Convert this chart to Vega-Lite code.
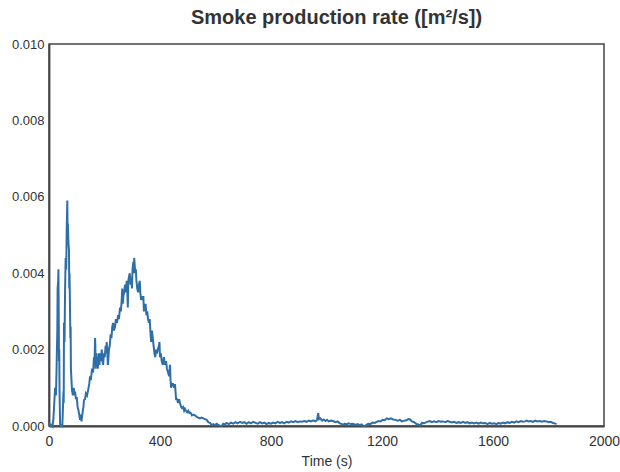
{
  "$schema": "https://vega.github.io/schema/vega-lite/v6.json",
  "autosize": "none",
  "width": 555,
  "height": 382,
  "padding": {"left": 49, "top": 44, "right": 16, "bottom": 46},
  "background": "white",
  "title": {"text": "Smoke production rate ([m²/s])", "font": "Liberation Sans", "fontSize": 20, "fontWeight": "bold", "color": "#333333", "offset": 10, "anchor": "middle", "dx": 10},
  "config": {
    "view": {"stroke": "#444444", "strokeWidth": 1.5},
    "axis": {"grid": false, "ticks": false, "labelFlush": false, "domainColor": "#444444", "domainWidth": 1.8, "labelFont": "Liberation Sans", "labelColor": "#333333", "titleFont": "Liberation Sans", "titleFontSize": 14, "titleFontWeight": "normal", "titleColor": "#333333"}
  },
  "data": {"values": [
{"t":0,"v":0},{"t":3,"v":0.00005},{"t":6,"v":0},{"t":10,"v":0.00003},{"t":13,"v":0},{"t":16,"v":0.0002},{"t":19,"v":0.0006},{"t":22,"v":0.001},{"t":25,"v":0.0008},{"t":27,"v":0.0014},{"t":28,"v":0.0018},{"t":30,"v":0.0025},{"t":31,"v":0.0036},{"t":33,"v":0.0038},{"t":34,"v":0.0041},{"t":35,"v":0.003},{"t":36,"v":0.0017},{"t":37,"v":0.002},{"t":38,"v":0.0009},{"t":40,"v":0.00005},{"t":42,"v":0},{"t":45,"v":0.00002},{"t":48,"v":0},{"t":50,"v":0.0004},{"t":52,"v":0.0009},{"t":53,"v":0.0006},{"t":54,"v":0.0027},{"t":56,"v":0.0022},{"t":58,"v":0.0036},{"t":60,"v":0.0044},{"t":62,"v":0.0041},{"t":64,"v":0.0052},{"t":66,"v":0.0059},{"t":67,"v":0.005},{"t":68,"v":0.0053},{"t":70,"v":0.0048},{"t":72,"v":0.0046},{"t":73,"v":0.0036},{"t":74,"v":0.004},{"t":76,"v":0.0029},{"t":77,"v":0.0023},{"t":78,"v":0.0026},{"t":79,"v":0.0015},{"t":81,"v":0.0012},{"t":83,"v":0.00094},{"t":86,"v":0.0008},{"t":89,"v":0.001},{"t":92,"v":0.0008},{"t":94,"v":0.0009},{"t":97,"v":0.0007},{"t":100,"v":0.00076},{"t":103,"v":0.0005},{"t":106,"v":0.00042},{"t":109,"v":0.0003},{"t":112,"v":0.00016},{"t":115,"v":0.0003},{"t":117,"v":0.00012},{"t":119,"v":0.00024},{"t":122,"v":0.0004},{"t":124,"v":0.0005},{"t":126,"v":0.00068},{"t":130,"v":0.0007},{"t":133,"v":0.00085},{"t":137,"v":0.0008},{"t":141,"v":0.00094},{"t":145,"v":0.0011},{"t":148,"v":0.0013},{"t":151,"v":0.0012},{"t":155,"v":0.0015},{"t":159,"v":0.0014},{"t":162,"v":0.0018},{"t":164,"v":0.0016},{"t":166,"v":0.0023},{"t":167,"v":0.0021},{"t":168,"v":0.0015},{"t":170,"v":0.0019},{"t":172,"v":0.0016},{"t":174,"v":0.0018},{"t":176,"v":0.0015},{"t":179,"v":0.0019},{"t":182,"v":0.0016},{"t":184,"v":0.0019},{"t":187,"v":0.0017},{"t":190,"v":0.002},{"t":193,"v":0.0017},{"t":195,"v":0.0016},{"t":198,"v":0.0019},{"t":201,"v":0.0018},{"t":204,"v":0.0021},{"t":206,"v":0.0019},{"t":208,"v":0.0022},{"t":210,"v":0.002},{"t":212,"v":0.0016},{"t":213,"v":0.00165},{"t":216,"v":0.002},{"t":219,"v":0.0021},{"t":222,"v":0.0024},{"t":225,"v":0.0023},{"t":228,"v":0.0026},{"t":231,"v":0.0027},{"t":234,"v":0.0025},{"t":238,"v":0.0026},{"t":241,"v":0.0028},{"t":245,"v":0.0027},{"t":249,"v":0.0029},{"t":252,"v":0.0028},{"t":256,"v":0.0031},{"t":259,"v":0.003},{"t":262,"v":0.0033},{"t":264,"v":0.0036},{"t":266,"v":0.0032},{"t":268,"v":0.0034},{"t":271,"v":0.0035},{"t":274,"v":0.0037},{"t":277,"v":0.0035},{"t":280,"v":0.0038},{"t":282,"v":0.0036},{"t":284,"v":0.0031},{"t":286,"v":0.0038},{"t":288,"v":0.0039},{"t":291,"v":0.004},{"t":294,"v":0.0037},{"t":297,"v":0.0039},{"t":299,"v":0.0036},{"t":301,"v":0.0041},{"t":304,"v":0.0043},{"t":306,"v":0.004},{"t":307,"v":0.0044},{"t":309,"v":0.0042},{"t":311,"v":0.004},{"t":313,"v":0.0041},{"t":315,"v":0.0038},{"t":318,"v":0.0036},{"t":321,"v":0.0035},{"t":324,"v":0.0037},{"t":327,"v":0.0038},{"t":329,"v":0.0035},{"t":332,"v":0.0033},{"t":335,"v":0.0034},{"t":338,"v":0.0033},{"t":340,"v":0.0034},{"t":342,"v":0.003},{"t":345,"v":0.0031},{"t":348,"v":0.0032},{"t":351,"v":0.0029},{"t":354,"v":0.003},{"t":357,"v":0.0028},{"t":360,"v":0.0027},{"t":363,"v":0.0028},{"t":366,"v":0.0024},{"t":368,"v":0.0022},{"t":371,"v":0.0025},{"t":374,"v":0.0023},{"t":377,"v":0.0021},{"t":380,"v":0.0019},{"t":383,"v":0.0018},{"t":386,"v":0.002},{"t":389,"v":0.0019},{"t":392,"v":0.002},{"t":396,"v":0.0021},{"t":398,"v":0.0022},{"t":400,"v":0.0018},{"t":403,"v":0.0019},{"t":406,"v":0.0017},{"t":410,"v":0.0016},{"t":414,"v":0.0018},{"t":418,"v":0.0016},{"t":422,"v":0.0017},{"t":425,"v":0.0015},{"t":429,"v":0.0014},{"t":433,"v":0.0013},{"t":436,"v":0.0016},{"t":438,"v":0.0012},{"t":440,"v":0.001},{"t":443,"v":0.0011},{"t":447,"v":0.0011},{"t":451,"v":0.001},{"t":454,"v":0.0011},{"t":456,"v":0.0009},{"t":458,"v":0.0007},{"t":462,"v":0.0007},{"t":465,"v":0.0006},{"t":469,"v":0.0007},{"t":472,"v":0.0006},{"t":476,"v":0.0005},{"t":479,"v":0.00047},{"t":483,"v":0.0005},{"t":487,"v":0.0004},{"t":490,"v":0.00045},{"t":494,"v":0.0004},{"t":498,"v":0.00036},{"t":502,"v":0.0004},{"t":506,"v":0.00034},{"t":510,"v":0.00035},{"t":515,"v":0.00028},{"t":520,"v":0.0003},{"t":526,"v":0.00028},{"t":532,"v":0.00024},{"t":538,"v":0.00022},{"t":544,"v":0.0002},{"t":550,"v":0.00022},{"t":556,"v":0.0002},{"t":562,"v":0.00018},{"t":568,"v":0.00016},{"t":574,"v":0.0001},{"t":580,"v":0.00008},{"t":586,"v":0.00003},{"t":592,"v":0.00005},{"t":598,"v":0.00002},{"t":604,"v":0.00006},{"t":610,"v":0.00003},{"t":616,"v":0.00001},{"t":622,"v":0},{"t":628,"v":0.00006},{"t":634,"v":0.00004},{"t":640,"v":0.00008},{"t":648,"v":0.00005},{"t":656,"v":0.00009},{"t":664,"v":0.00006},{"t":672,"v":0.0001},{"t":680,"v":0.00007},{"t":688,"v":0.00011},{"t":696,"v":0.00008},{"t":704,"v":0.0001},{"t":712,"v":0.00006},{"t":720,"v":0.0001},{"t":728,"v":0.00007},{"t":736,"v":0.00011},{"t":744,"v":0.00008},{"t":752,"v":0.00006},{"t":760,"v":0.0001},{"t":768,"v":0.00007},{"t":776,"v":0.00009},{"t":784,"v":0.00005},{"t":792,"v":0.00008},{"t":800,"v":0.00006},{"t":808,"v":0.00009},{"t":816,"v":0.00007},{"t":824,"v":0.00011},{"t":832,"v":0.00008},{"t":840,"v":0.0001},{"t":848,"v":0.00007},{"t":856,"v":0.00011},{"t":864,"v":0.00009},{"t":872,"v":0.00012},{"t":880,"v":0.0001},{"t":888,"v":0.00013},{"t":896,"v":0.0001},{"t":904,"v":0.00012},{"t":912,"v":0.00011},{"t":920,"v":0.00013},{"t":928,"v":0.00011},{"t":936,"v":0.00014},{"t":944,"v":0.00012},{"t":952,"v":0.00015},{"t":960,"v":0.00012},{"t":966,"v":0.00016},{"t":970,"v":0.00034},{"t":973,"v":0.00018},{"t":978,"v":0.0002},{"t":984,"v":0.00014},{"t":990,"v":0.00017},{"t":996,"v":0.00013},{"t":1002,"v":0.00016},{"t":1008,"v":0.00012},{"t":1016,"v":0.00014},{"t":1024,"v":0.00013},{"t":1032,"v":0.0001},{"t":1040,"v":0.00012},{"t":1048,"v":0.00007},{"t":1056,"v":0.00005},{"t":1060,"v":0.00003},{"t":1066,"v":0.00006},{"t":1072,"v":0.00004},{"t":1080,"v":0.00007},{"t":1088,"v":0.00005},{"t":1096,"v":0.00006},{"t":1104,"v":0.00003},{"t":1112,"v":0.00005},{"t":1120,"v":0.00002},{"t":1126,"v":0.00004},{"t":1132,"v":0.00001},{"t":1138,"v":0},{"t":1144,"v":0.00003},{"t":1150,"v":0.00006},{"t":1158,"v":0.00005},{"t":1166,"v":0.00009},{"t":1174,"v":0.00008},{"t":1181,"v":0.00011},{"t":1188,"v":0.00013},{"t":1195,"v":0.00012},{"t":1202,"v":0.00016},{"t":1210,"v":0.00015},{"t":1217,"v":0.0002},{"t":1224,"v":0.00018},{"t":1232,"v":0.0002},{"t":1240,"v":0.00017},{"t":1248,"v":0.00016},{"t":1256,"v":0.00014},{"t":1265,"v":0.00016},{"t":1272,"v":0.00012},{"t":1280,"v":0.00014},{"t":1288,"v":0.00015},{"t":1295,"v":0.00018},{"t":1301,"v":0.00017},{"t":1308,"v":0.00012},{"t":1316,"v":0.0001},{"t":1324,"v":0.00005},{"t":1330,"v":0.00004},{"t":1337,"v":0.00001},{"t":1344,"v":0.00008},{"t":1352,"v":0.00007},{"t":1360,"v":0.0001},{"t":1367,"v":0.00012},{"t":1373,"v":0.00013},{"t":1380,"v":0.0001},{"t":1388,"v":0.00012},{"t":1396,"v":0.0001},{"t":1404,"v":0.00013},{"t":1412,"v":0.00011},{"t":1420,"v":0.00012},{"t":1428,"v":0.0001},{"t":1436,"v":0.00013},{"t":1444,"v":0.00011},{"t":1452,"v":0.00009},{"t":1460,"v":0.00011},{"t":1468,"v":0.00008},{"t":1476,"v":0.0001},{"t":1484,"v":0.00008},{"t":1492,"v":0.00011},{"t":1500,"v":0.00008},{"t":1508,"v":0.0001},{"t":1516,"v":0.00007},{"t":1524,"v":0.00009},{"t":1532,"v":0.00007},{"t":1540,"v":0.00009},{"t":1548,"v":0.00006},{"t":1556,"v":0.00009},{"t":1564,"v":0.00007},{"t":1572,"v":0.00008},{"t":1580,"v":0.00005},{"t":1588,"v":0.00008},{"t":1596,"v":0.00006},{"t":1604,"v":0.00007},{"t":1613,"v":0.00005},{"t":1620,"v":0.00008},{"t":1628,"v":0.00006},{"t":1636,"v":0.00009},{"t":1644,"v":0.00007},{"t":1652,"v":0.0001},{"t":1660,"v":0.00008},{"t":1668,"v":0.00011},{"t":1676,"v":0.00009},{"t":1684,"v":0.00012},{"t":1692,"v":0.0001},{"t":1700,"v":0.00013},{"t":1708,"v":0.00011},{"t":1716,"v":0.00012},{"t":1721,"v":0.00014},{"t":1728,"v":0.00012},{"t":1736,"v":0.00013},{"t":1744,"v":0.00011},{"t":1752,"v":0.00014},{"t":1760,"v":0.00012},{"t":1768,"v":0.00013},{"t":1776,"v":0.00011},{"t":1784,"v":0.00013},{"t":1793,"v":0.00012},{"t":1800,"v":0.0001},{"t":1808,"v":0.00011},{"t":1816,"v":0.00008},{"t":1822,"v":0.00007},{"t":1829,"v":0.00005}
  ]},
  "mark": {"type": "line", "color": "#2f6fa8", "strokeWidth": 2, "interpolate": "linear"},
  "encoding": {
    "x": {"field": "t", "type": "quantitative", "title": "Time (s)", "scale": {"domain": [0, 2000], "nice": false}, "axis": {"values": [0, 400, 800, 1200, 1600, 2000], "labelFontSize": 14, "labelPadding": 8, "titlePadding": 6, "format": "d"}},
    "y": {"field": "v", "type": "quantitative", "title": null, "scale": {"domain": [0, 0.01], "nice": false}, "axis": {"values": [0, 0.002, 0.004, 0.006, 0.008, 0.01], "labelFontSize": 13, "format": ".3f", "labelPadding": 5}}
  }
}
